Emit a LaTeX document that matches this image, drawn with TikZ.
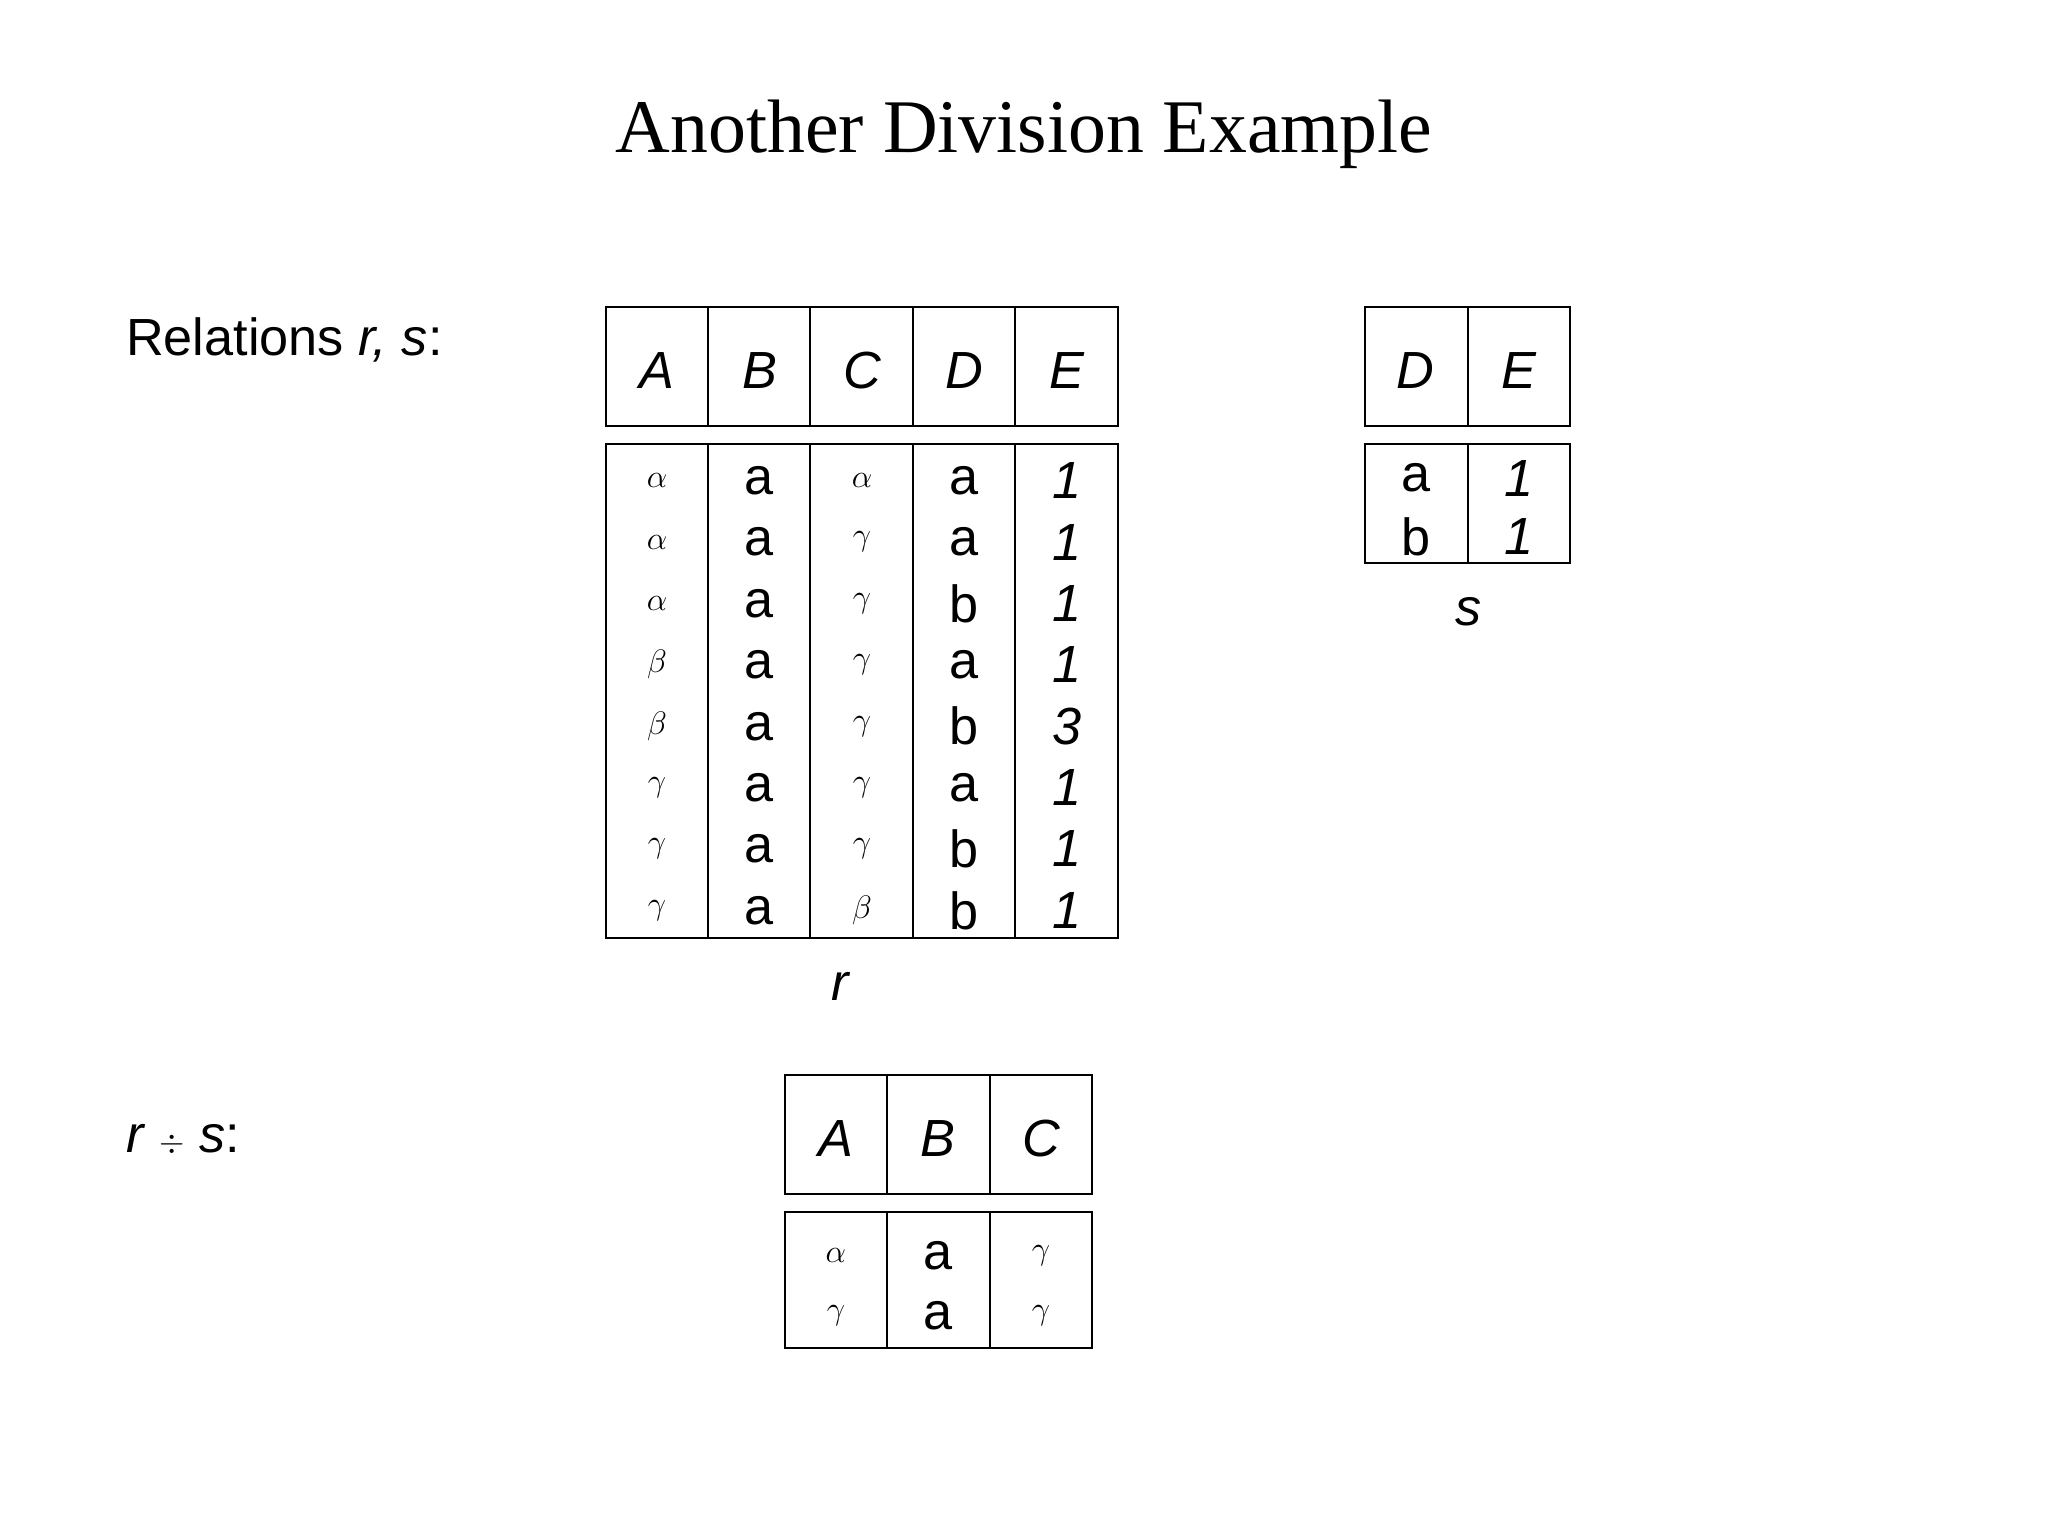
\documentclass[tikz,border=0pt]{standalone}
\usepackage{fontspec}
\setmainfont{Liberation Sans}
\newfontfamily\titlefont{Liberation Serif}
\begin{document}
\begin{tikzpicture}[x=1pt,y=-1pt,
  cell/.style={font=\fontsize{40}{44}\selectfont,inner sep=0pt,anchor=center},
  hd/.style={cell,font=\fontsize{40}{44}\selectfont\itshape},
  gr/.style={cell,font=\fontsize{46}{50}\selectfont},
  box/.style={draw,line width=1.3pt}]
\useasboundingbox (0,0) rectangle (1568,1176);
\node[font=\fontsize{58}{62}\selectfont\titlefont] (title) at (784,103) {Another Division Example};
\node[font=\fontsize{40}{44}\selectfont,anchor=west] (rel) at (93,260) {Relations \textit{r, s}:};
\node[font=\fontsize{40}{44}\selectfont,anchor=west] (div) at (93,873) {\textit{r} $\div$ \textit{s}:};
% table r
\draw[box] (464,235) rectangle (856,326);
\draw[box] (464,340) rectangle (856,718);
\foreach \x in {542,620,699,777}{\draw[box] (\x,235)--(\x,326); \draw[box] (\x,340)--(\x,718);}
\foreach \t [count=\i] in {A,B,C,D,E}{\node[hd] (rh\i) at ({464+78.4*(\i-0.5)},284) {\t};}
\foreach \a/\b/\c/\d/\e [count=\j] in {\alpha/a/\alpha/a/1,\alpha/a/\gamma/a/1,\alpha/a/\gamma/b/1,\beta/a/\gamma/a/1,\beta/a/\gamma/b/3,\gamma/a/\gamma/a/1,\gamma/a/\gamma/b/1,\gamma/a/\beta/b/1}{
  \pgfmathsetmacro\yy{368+47*(\j-1)}
  \node[gr] (ra\j) at (503,\yy) {$\a$};
  \node[cell] (rb\j) at (581,\yy) {\b};
  \node[gr] (rc\j) at (660,\yy) {$\c$};
  \node[cell] (rd\j) at (738,\yy) {\d};
  \node[cell,font=\fontsize{40}{44}\selectfont\itshape] (re\j) at (817,\yy) {\e};
}
\node[hd] (rlab) at (643,755) {r};
% table s
\draw[box] (1045,235) rectangle (1202,326);
\draw[box] (1045,340) rectangle (1202,431);
\draw[box] (1124,235)--(1124,326); \draw[box] (1124,340)--(1124,431);
\node[hd] (sh1) at (1084,284) {D};
\node[hd] (sh2) at (1163,284) {E};
\node[cell] (sd1) at (1084,366) {a};
\node[cell,font=\fontsize{40}{44}\selectfont\itshape] (se1) at (1163,366) {1};
\node[cell] (sd2) at (1084,411) {b};
\node[cell,font=\fontsize{40}{44}\selectfont\itshape] (se2) at (1163,411) {1};
\node[hd] (slab) at (1124,468) {s};
% result
\draw[box] (601,823) rectangle (836,914);
\draw[box] (601,928) rectangle (836,1032);
\foreach \x in {679,758}{\draw[box] (\x,823)--(\x,914); \draw[box] (\x,928)--(\x,1032);}
\node[hd] (qh1) at (640,872) {A};
\node[hd] (qh2) at (718,872) {B};
\node[hd] (qh3) at (797,872) {C};
\node[gr] (qa1) at (640,961) {$\alpha$};
\node[cell] (qb1) at (718,961) {a};
\node[gr] (qc1) at (797,961) {$\gamma$};
\node[gr] (qa2) at (640,1007) {$\gamma$};
\node[cell] (qb2) at (718,1007) {a};
\node[gr] (qc2) at (797,1007) {$\gamma$};
\end{tikzpicture}
\end{document}
